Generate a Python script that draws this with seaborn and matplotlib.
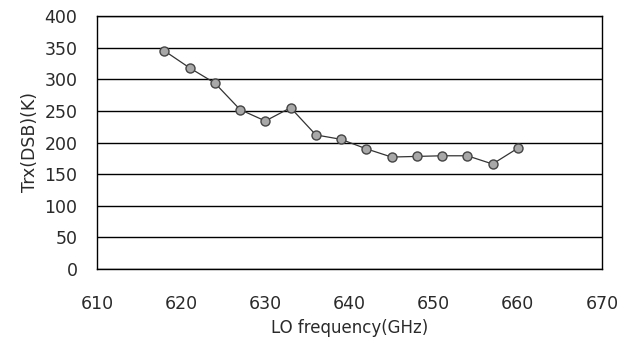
import matplotlib
matplotlib.use('Agg')
import matplotlib.pyplot as plt
import seaborn as sns
import pandas as pd

# ── Data ──────────────────────────────────────────────────────
lo_freq = [618, 621, 624, 627, 630, 633, 636, 639, 642, 645, 648, 651, 654, 657, 660]
trx_dsb = [345, 318, 294, 252, 234, 255, 212, 205, 190, 177, 178, 179, 179, 166, 191]
x_ticks = [610, 620, 630, 640, 650, 660, 670]
y_ticks = [0, 50, 100, 150, 200, 250, 300, 350, 400]

df = pd.DataFrame({'freq': lo_freq, 'trx': trx_dsb})

sns.set_style('white')
plt.rcParams['font.family'] = ['DejaVu Sans']

fig = plt.figure(figsize=(6.22, 3.47), dpi=100)
ax = fig.add_axes([97 / 622, 1 - 269 / 347, 505 / 622, 253 / 347])

sns.lineplot(data=df, x='freq', y='trx', ax=ax, color='#333333', linewidth=0.9,
             marker='o', markersize=6.5, markerfacecolor='#a8a8a8',
             markeredgecolor='#444444', markeredgewidth=1.0)

ax.set_xlim(610, 670)
ax.set_ylim(0, 400)
ax.set_xticks(x_ticks)
ax.set_yticks(y_ticks)
ax.yaxis.grid(True, color='black', linewidth=1.0)
ax.set_axisbelow(True)
for s in ax.spines.values():
    s.set_color('black')
    s.set_linewidth(1.0)

ax.tick_params(axis='x', direction='in', length=4, width=0.8, pad=19,
               labelsize=12.5, colors='black', labelcolor='#2a2a2a')
ax.tick_params(axis='y', length=0, pad=14, labelsize=12.5, labelcolor='#2a2a2a')
# no tick marks at the ends of the x axis
for t in (ax.xaxis.get_major_ticks()[0], ax.xaxis.get_major_ticks()[-1]):
    t.tick1line.set_visible(False)

ax.set_xlabel('LO frequency(GHz)', fontsize=12, color='#2a2a2a', labelpad=4)
ax.set_ylabel('Trx(DSB)(K)', fontsize=12.5, color='#2a2a2a', labelpad=4)

fig.savefig('out.png', dpi=100)
